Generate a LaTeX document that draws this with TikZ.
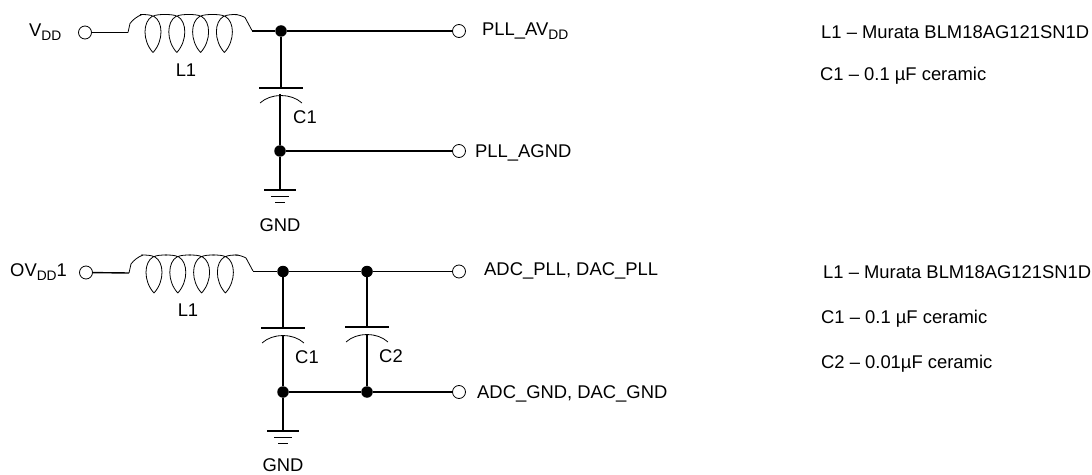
\documentclass[tikz,border=0pt]{standalone}
\usepackage{fontspec}
\setmainfont{Liberation Sans}
\newcommand{\sbs}[1]{\raisebox{-0.25em}{\fontsize{13.8}{15}\selectfont #1}}
\begin{document}
\begin{tikzpicture}
	[x=1pt,y=-1pt,
	font=\fontsize{18.4}{22}\selectfont,
	wire/.style={line width=1.4pt},
	thin wire/.style={line width=0.8pt},
	term/.style={circle,draw,line width=0.8pt,fill=white,minimum size=13pt,inner sep=0pt},
	junction/.style={circle,fill=black,minimum size=11.5pt,inner sep=0pt},
	txt/.style={anchor=west,inner sep=0pt},
	coil/.pic={
		\draw[thin wire] (0,0) -- (2,-9) .. controls (5,-13) and (9,-16) .. (14,-18);
		\foreach \i in {0,1,2,3}{
			\draw[thin wire,shift={(25+23.8*\i,0)}]
				(0,20) .. controls (-11,8) and (-10,-11) .. (-1,-16) .. controls (3,-18) and (8,-18) .. (13,-18)
				(0,20) .. controls (11,8) and (10,-11) .. (1,-16) .. controls (-3,-18) and (-8,-18) .. (-13,-18);
		}
		\draw[thin wire] (106,-18) .. controls (111,-18) and (115,-16) .. (117,-15) -- (124,-2);
	},
	capa/.pic={
		\draw[wire] (-22,0) -- (22,0);
		\draw[thin wire] (-21,15) .. controls (-10,5) and (10,5) .. (21,15);
	},
	earth/.pic={
		\draw[wire] (-16,0) -- (16,0);
		\draw[wire] (-9,6.5) -- (9,6.5);
		\draw[wire] (-5,12.5) -- (5,12.5);
	}]
	% upper filter
	\node[term] (vdd) at (85,32.5) {};
	\node[txt] (vddtext) at (29,32) {V\sbs{DD}};
	\coordinate (la) at (128,32.5);
	\coordinate (lb) at (252,31);
	\pic at (128,32.5) {coil};
	\node (ltext) at (186,70) {L1};
	\node[junction] (top) at (281,31) {};
	\node[term] (avdd) at (459,31) {};
	\node[txt] (avddtext) at (482,31) {PLL\_AV\sbs{DD}};
	\coordinate (pa) at (281,88);
	\coordinate (pb) at (280,94);
	\pic at (281,88) {capa};
	\node (ctext) at (305,117) {C1};
	\node[junction] (mid) at (280,151) {};
	\node[term] (agnd) at (459,151) {};
	\node[txt] (agndtext) at (475,153) {PLL\_AGND};
	\coordinate (ga) at (280,190);
	\pic at (280,190) {earth};
	\node (gndtext) at (280,225) {GND};
	\draw[wire] (vdd) -- (la);
	\draw[wire] (lb) -- (top);
	\draw[wire] (top) -- (avdd);
	\draw[wire] (top) -- (pa);
	\draw[wire] (pb) -- (mid);
	\draw[wire] (mid) -- (agnd);
	\draw[wire] (mid) -- (ga);
	% lower filter
	\node[term] (ovdd) at (86,272.5) {};
	\node[txt] (ovddtext) at (10,272) {OV\sbs{DD}1};
	\coordinate (lc) at (129,273);
	\coordinate (ld) at (253,271.5);
	\pic at (129,273) {coil};
	\node (ltextb) at (188,310) {L1};
	\node[junction] (topa) at (283,271.5) {};
	\node[junction] (topb) at (367,271.5) {};
	\node[term] (adc) at (459,271.5) {};
	\node[txt] (adctext) at (484,271) {ADC\_PLL, DAC\_PLL};
	\coordinate (pc) at (283,328);
	\coordinate (pd) at (283,335);
	\pic at (283,328) {capa};
	\node (ctexta) at (307,357) {C1};
	\coordinate (pe) at (367,327);
	\coordinate (pf) at (367,334);
	\pic at (367,327) {capa};
	\node (ctextb) at (391,356) {C2};
	\node[junction] (bota) at (283,392) {};
	\node[junction] (botb) at (367,392) {};
	\node[term] (adcgnd) at (459,392) {};
	\node[txt] (adcgndtext) at (477,394) {ADC\_GND, DAC\_GND};
	\coordinate (gb) at (283,431);
	\pic at (283,431) {earth};
	\node (gndtextb) at (283,465) {GND};
	\draw[wire] (ovdd) -- (lc);
	\draw[wire] (ld) -- (topa);
	\draw[wire] (topa) -- (topb);
	\draw[wire] (topb) -- (adc);
	\draw[wire] (topa) -- (pc);
	\draw[wire] (pd) -- (bota);
	\draw[wire] (topb) -- (pe);
	\draw[wire] (pf) -- (botb);
	\draw[wire] (bota) -- (botb);
	\draw[wire] (botb) -- (adcgnd);
	\draw[wire] (bota) -- (gb);
	% part lists
	\node[txt] (lista) at (821,32) {L1 – Murata BLM18AG121SN1D};
	\node[txt] (listb) at (820,76) {C1 – 0.1 µF ceramic};
	\node[txt] (listc) at (823,272) {L1 – Murata BLM18AG121SN1D};
	\node[txt] (listd) at (821,319) {C1 – 0.1 µF ceramic};
	\node[txt] (liste) at (821,364) {C2 – 0.01µF ceramic};
	\useasboundingbox (0,0) rectangle (1092,472);
\end{tikzpicture}
\end{document}
